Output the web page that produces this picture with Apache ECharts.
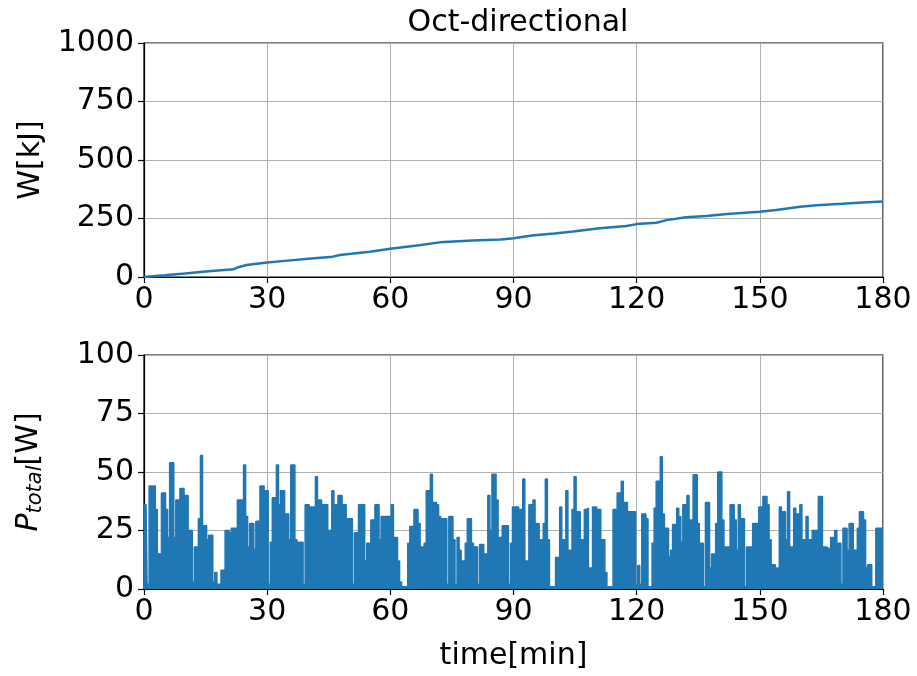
<!DOCTYPE html>
<html><head><meta charset="utf-8">
<script src="https://cdn.jsdelivr.net/npm/echarts@6/dist/echarts.min.js"></script>
<style>html,body{margin:0;padding:0;background:#fff}#c{width:917px;height:676px}</style>
</head><body><div id="c"></div>
<script>
const titleText = 'Oct-directional';
const xTicksMax = 180;
// Cumulative energy W[kJ] vs time[min]
const wTime   = [0,5,10,15,21.8,23,25,30,35,40,46,47.7,55,60,67,72,80,87,90,95,100,104.5,111,117.5,120,124.8,127.3,132,137,142,150,154,159.8,163.8,170,175,180];
const wValues = [0,7,15,24,33,42,51,62,70,78,87,94,108,121,136,148,156,160,166,178,186,194,208,218,226,232,243,255,261,269,279,286,300,307,313,318,323];
// Total power P_total[W], sampled every 0.5 min from 0 to 180
const pStep = 0.5;
const pValues = [
36,36,2,44,44,44,34,15,15,41,41,34,22,54,54,22,38,38,43,43,
40,40,25,25,3,18,18,30,57,27,27,21,23,23,3,7,2,2,8,8,
25,25,24,26,26,26,38,38,38,53,31,18,28,28,17,29,29,44,44,42,
42,2,20,39,39,53,36,42,42,32,32,21,53,53,21,20,20,20,2,36,
36,35,35,35,48,38,38,36,36,36,25,25,42,36,36,40,40,36,36,30,
30,30,2,24,24,36,36,36,12,19.5,19.5,29.5,29.5,36,36,21,31,31,31,31,
31,36,22,22,12,3,1,1,1,19.5,26.7,26.7,34,34,28,18,18,19.5,42,42,
49,37,37,36,31,30,30,30,2,31,31,21,2,22,16.6,12,12,19.5,30,30,
19.5,18,18,2,19,19,15,15,40,25,49,49,38,22,22,27,27,27,2,19.5,
35,35,35,34,34,47,12,12,36,36,38,28,28,21,21,28,47,21,1,1,
1,13.5,13.5,35,21,21,42,16.6,16.6,34,48,33,33,21,21,34,34.5,9,9,35,
35,34,34,21,21,7,1,1,1,34,34,41,41,46,37,37,33,33,33,33,
2,10,2,32,32,30,1,1,19.5,34.5,46,46,56.5,32,26,26,14,16.6,27.6,27.6,
34.5,31,20,36,36,40,29.5,29.5,48.8,48.8,28,19.5,19.5,1,37,37,9,15,15,28,
50,50,29.5,18,18,18,36,36,29.5,16.6,36,30,30,1,18,18,18,28,28,28,
35,35,39.5,39.5,36,21,10.4,10.4,9,9,35,33,33,21,41.6,18,18,34.5,32,32,
36,21,21,31,21,21,25,25,25,39.5,39.5,18,18,17.3,17.3,22,22,25,19.5,19.5,
2,26,26,16.6,28,28,16.6,16.6,26,33,33,29.5,9,10.4,10.4,1,1,26,26,26,
1
];

const FONT = 'DejaVu Sans';
const FS = 30;
const BLUE = '#1f77b4';
const wData = wTime.map((t, i) => [t, wValues[i]]);
const pData = pValues.map((v, i) => [i * pStep, v]);

function xAxis(gi, name) {
  return {
    type: 'value', gridIndex: gi, min: 0, max: xTicksMax, interval: 30,
    name: name || '', nameLocation: 'middle', nameGap: 52,
    nameTextStyle: {fontFamily: FONT, fontSize: FS, color: '#000'},
    axisLine: {show: true, lineStyle: {color: '#000', width: 1.2}},
    axisTick: {show: true, inside: false, length: 6, lineStyle: {color: '#000', width: 1.2}},
    axisLabel: {fontFamily: FONT, fontSize: FS, color: '#000', margin: 8, formatter: v => String(v)},
    splitLine: {show: true, lineStyle: {color: '#b0b0b0', width: 1}}
  };
}
function yAxis(gi, max, interval, name, rich) {
  return {
    type: 'value', gridIndex: gi, min: 0, max: max, interval: interval,
    name: name, nameLocation: 'middle', nameRotate: 90, nameGap: 98,
    nameTextStyle: {fontFamily: FONT, fontSize: FS, color: '#000', rich: rich || {}},
    axisLine: {show: true, lineStyle: {color: '#000', width: 1.2}},
    axisTick: {show: true, inside: false, length: 6, lineStyle: {color: '#000', width: 1.2}},
    axisLabel: {fontFamily: FONT, fontSize: FS, color: '#000', margin: 10, formatter: v => String(v)},
    splitLine: {show: true, lineStyle: {color: '#b0b0b0', width: 1}}
  };
}

const chart = echarts.init(document.getElementById('c'), null, {renderer: 'canvas'});
chart.setOption({
  animation: false,
  backgroundColor: '#fff',
  title: {
    text: titleText, left: 513, top: 3, textAlign: 'center',
    textStyle: {fontFamily: FONT, fontSize: FS, fontWeight: 'normal', color: '#000'}
  },
  grid: [
    {left: 144, right: 34, top: 43, height: 234, show: true, borderColor: '#000', borderWidth: 1.2, backgroundColor: 'transparent'},
    {left: 144, right: 34, top: 355, height: 234, show: true, borderColor: '#000', borderWidth: 1.2, backgroundColor: 'transparent'}
  ],
  xAxis: [xAxis(0), xAxis(1, 'time[min]')],
  yAxis: [
    yAxis(0, 1000, 250, 'W[kJ]'),
    yAxis(1, 100, 25, '{it|P}{sub|total}{n|[W]}', {
      it: {fontFamily: FONT, fontSize: FS, fontStyle: 'italic', color: '#000'},
      sub: {fontFamily: FONT, fontSize: 21, fontStyle: 'italic', color: '#000', verticalAlign: 'bottom', padding: [12, 0, 0, 0]},
      n: {fontFamily: FONT, fontSize: FS, color: '#000'}
    })
  ],
  series: [
    {type: 'line', xAxisIndex: 0, yAxisIndex: 0, data: wData, showSymbol: false,
     lineStyle: {color: BLUE, width: 2.5}, itemStyle: {color: BLUE}},
    {type: 'line', xAxisIndex: 1, yAxisIndex: 1, data: pData, showSymbol: false, step: 'middle',
     lineStyle: {color: BLUE, width: 1.5}, itemStyle: {color: BLUE},
     areaStyle: {color: BLUE, opacity: 1}}
  ]
});
</script>
</body></html>
